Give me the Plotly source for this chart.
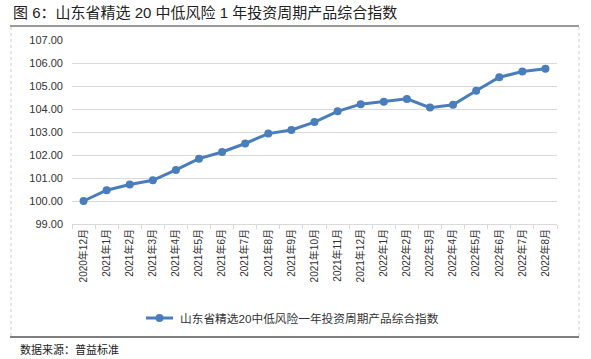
import plotly.graph_objects as go

categories = ["2020年12月", "2021年1月", "2021年2月", "2021年3月", "2021年4月", "2021年5月",
              "2021年6月", "2021年7月", "2021年8月", "2021年9月", "2021年10月", "2021年11月",
              "2021年12月", "2022年1月", "2022年2月", "2022年3月", "2022年4月", "2022年5月",
              "2022年6月", "2022年7月", "2022年8月"]
values = [100.00, 100.47, 100.72, 100.90, 101.35, 101.84, 102.13, 102.50, 102.93, 103.09,
          103.43, 103.90, 104.21, 104.31, 104.44, 104.06, 104.18, 104.79, 105.38, 105.63, 105.75]
series_name = "山东省精选20中低风险一年投资周期产品综合指数"
title_text = "图 6：山东省精选 20 中低风险 1 年投资周期产品综合指数"
source_text = "数据来源：普益标准"
y_ticks = [99, 100, 101, 102, 103, 104, 105, 106, 107]

CJK = "Liberation Sans, Noto Sans CJK SC, sans-serif"
BLUE = "#4a7ebb"

L, R, T, B = 72, 34, 40, 135
W, H = 591, 359
PW, PH = W - L - R, H - T - B

def px_x(px):
    return (px - L) / PW

def px_y(py):
    return (H - B - py) / PH

fig = go.Figure()
fig.add_trace(go.Scatter(
    x=categories, y=values, mode="lines+markers", name=series_name,
    line=dict(color=BLUE, width=3), marker=dict(color=BLUE, size=8),
))

fig.update_layout(
    width=W, height=H,
    margin=dict(l=L, r=R, t=T, b=B, autoexpand=False),
    paper_bgcolor="white", plot_bgcolor="white",
    font=dict(family=CJK, color="#333333", size=11),
    showlegend=False,
    xaxis=dict(
        type="category", tickangle=-90, tickfont=dict(size=10, color="#333333"),
        showgrid=False, showline=True, linecolor="#d9d9d9", linewidth=1,
        ticks="outside", tickson="boundaries", ticklen=4, tickcolor="#d9d9d9",
        range=[-0.5, len(categories) - 0.5], fixedrange=True,
    ),
    yaxis=dict(
        range=[99, 107], tickvals=y_ticks, tickformat=".2f",
        tickfont=dict(size=11, color="#333333"),
        showgrid=True, gridcolor="#d9d9d9", gridwidth=1,
        showline=False, zeroline=False, ticks="", ticklabelstandoff=8,
    ),
)

# Title and source text
fig.add_annotation(text=title_text, xref="paper", yref="paper", x=px_x(11), y=px_y(13),
                   xanchor="left", yanchor="middle", showarrow=False,
                   font=dict(size=15, color="#222222", family=CJK))
fig.add_annotation(text=source_text, xref="paper", yref="paper", x=px_x(18), y=px_y(349),
                   xanchor="left", yanchor="middle", showarrow=False,
                   font=dict(size=11, color="#222222", family=CJK))

# Manual legend
fig.add_shape(type="line", xref="paper", yref="paper", x0=px_x(146), x1=px_x(173), y0=px_y(318), y1=px_y(318),
              line=dict(color=BLUE, width=3))
fig.add_shape(type="circle", xref="paper", yref="paper", x0=px_x(155.5), x1=px_x(163.5), y0=px_y(314), y1=px_y(322),
              line=dict(color=BLUE, width=0), fillcolor=BLUE)
fig.add_annotation(text=series_name, xref="paper", yref="paper", x=px_x(178), y=px_y(318),
                   xanchor="left", yanchor="middle", showarrow=False,
                   font=dict(size=11.7, color="#333333", family=CJK))

# Frame lines
fig.add_shape(type="line", xref="paper", yref="paper", x0=px_x(10), x1=px_x(579), y0=px_y(26), y1=px_y(26),
              line=dict(color="#9a9a9a", width=2))
fig.add_shape(type="line", xref="paper", yref="paper", x0=px_x(10), x1=px_x(579), y0=px_y(337), y1=px_y(337),
              line=dict(color="#555555", width=1.5))
fig.add_shape(type="line", xref="paper", yref="paper", x0=px_x(11), x1=px_x(11), y0=px_y(27), y1=px_y(336),
              line=dict(color="#cccccc", width=1, dash="dot"))
fig.add_shape(type="line", xref="paper", yref="paper", x0=px_x(579), x1=px_x(579), y0=px_y(27), y1=px_y(336),
              line=dict(color="#cccccc", width=1, dash="dot"))

fig.write_html("out.html", config={"displayModeBar": False},
               post_script="document.body.style.margin='0';")
